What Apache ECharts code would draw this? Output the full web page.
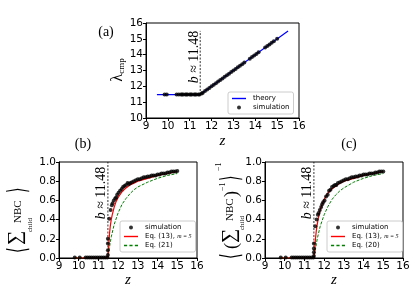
<!DOCTYPE html>
<html>
<head>
<meta charset="utf-8">
<script src="https://cdn.jsdelivr.net/npm/echarts@6/dist/echarts.min.js"></script>
<style>
html,body{margin:0;padding:0;background:#fff;}
#c{width:416px;height:291px;}
</style>
</head>
<body>
<div id="c"></div>
<script>
// ---------- data ----------
const xTicks = [9, 10, 11, 12, 13, 14, 15, 16];
const aYTicks = [10, 11, 12, 13, 14, 15, 16];
const bcYTicks = [0.0, 0.2, 0.4, 0.6, 0.8, 1.0];
const bThreshold = 11.48;

// (a) theory and simulation
const aTheoryZ = [9.5, 11.48, 15.5];
const aTheoryL = [11.48, 11.48, 15.5];
const aSimZ = [9.85, 9.95, 10.4, 10.5, 10.6, 10.65, 10.7, 10.8, 10.85, 10.9, 11.0, 11.05, 11.1, 11.2, 11.25, 11.3, 11.4, 11.45,
  11.55, 11.6, 11.7, 11.8, 11.9, 12.0, 12.1, 12.2, 12.3, 12.4, 12.5, 12.6, 12.7, 12.8, 12.9, 13.0, 13.1, 13.2, 13.3, 13.4, 13.5,
  13.75, 13.85, 13.95, 14.05, 14.15, 14.45, 14.55, 14.65, 14.75, 14.85, 15.0];
const aSimL = [11.48, 11.48, 11.48, 11.48, 11.48, 11.48, 11.48, 11.48, 11.48, 11.48, 11.48, 11.48, 11.48, 11.48, 11.48, 11.48, 11.48, 11.48,
  11.55, 11.6, 11.7, 11.8, 11.9, 12.0, 12.1, 12.2, 12.3, 12.4, 12.5, 12.6, 12.7, 12.8, 12.9, 13.0, 13.1, 13.2, 13.3, 13.4, 13.5,
  13.75, 13.85, 13.95, 14.05, 14.15, 14.45, 14.55, 14.65, 14.75, 14.85, 15.0];

// (b)/(c) simulation
const simZ = [9.8, 10.05, 10.35, 10.45, 10.55, 10.65, 10.75, 10.85, 10.95, 11.05, 11.15, 11.25, 11.35, 11.45,
  11.48, 11.48, 11.48, 11.48,
  11.55, 11.62, 11.68, 11.72, 11.78, 11.85, 11.9, 11.95, 12.02, 12.1, 12.18, 12.25, 12.32, 12.4, 12.48, 12.55, 12.62, 12.7,
  12.8, 12.9, 13.0, 13.1, 13.2, 13.3, 13.4, 13.5, 13.6, 13.7, 13.8, 13.9, 14.0, 14.1, 14.2, 14.3, 14.4, 14.5, 14.6, 14.7, 14.8, 14.9, 15.0];
const bSimV = [0.005, 0.005, 0.005, 0.005, 0.005, 0.005, 0.005, 0.005, 0.005, 0.005, 0.005, 0.005, 0.005, 0.005,
  0.03, 0.08, 0.15, 0.2,
  0.41, 0.5, 0.55, 0.57, 0.6, 0.62, 0.63, 0.66, 0.68, 0.7, 0.72, 0.74, 0.75, 0.76, 0.78, 0.77, 0.78, 0.79,
  0.8, 0.81, 0.82, 0.82, 0.83, 0.84, 0.84, 0.85, 0.85, 0.86, 0.86, 0.86, 0.87, 0.87, 0.88, 0.88, 0.88, 0.89, 0.89, 0.9, 0.9, 0.9, 0.905];
const cSimV = [0.005, 0.005, 0.005, 0.005, 0.005, 0.005, 0.005, 0.005, 0.005, 0.005, 0.005, 0.005, 0.005, 0.005,
  0.02, 0.06, 0.1, 0.15,
  0.33, 0.4, 0.45, 0.47, 0.5, 0.53, 0.56, 0.58, 0.6, 0.64, 0.66, 0.7, 0.71, 0.74, 0.75, 0.76, 0.76, 0.78,
  0.79, 0.8, 0.81, 0.82, 0.82, 0.83, 0.84, 0.84, 0.85, 0.85, 0.86, 0.86, 0.87, 0.87, 0.87, 0.88, 0.88, 0.88, 0.89, 0.89, 0.9, 0.9, 0.9];

// Eq. (13) curves
const eq13Z = [9.8, 11.48, 11.52, 11.56, 11.6, 11.65, 11.7, 11.8, 11.9, 12.0, 12.2, 12.4, 12.6, 12.8, 13.0, 13.5, 14.0, 14.5, 15.0];
const bEq13V = [0, 0, 0.12, 0.25, 0.33, 0.4, 0.45, 0.53, 0.59, 0.63, 0.69, 0.73, 0.76, 0.78, 0.8, 0.83, 0.86, 0.88, 0.9];
const cEq13V = [0, 0, 0.08, 0.2, 0.28, 0.35, 0.41, 0.5, 0.56, 0.61, 0.68, 0.72, 0.75, 0.78, 0.8, 0.83, 0.86, 0.88, 0.9];
// Eq. (21) / Eq. (20) curves
const eqAltZ = [9.8, 11.48, 11.55, 11.65, 11.8, 12.0, 12.2, 12.4, 12.6, 12.8, 13.0, 13.5, 14.0, 14.5, 15.0];
const bEq21V = [0, 0, 0.1, 0.22, 0.35, 0.47, 0.56, 0.62, 0.67, 0.71, 0.74, 0.79, 0.83, 0.86, 0.88];
const cEq20V = [0, 0, 0.08, 0.2, 0.33, 0.45, 0.54, 0.61, 0.66, 0.7, 0.73, 0.79, 0.83, 0.86, 0.88];

const aVLine = [[bThreshold, 11.48], [bThreshold, 15.5]];
const bcVLine = [[bThreshold, 0], [bThreshold, 1]];

// ---------- helpers ----------
const zip = (xs, ys) => xs.map((x, i) => [x, ys[i]]);
const SANS = 'DejaVu Sans';
const SERIF = 'Liberation Serif';
const SOLID_ICON = 'path://M0,0H20V2H0Z';
const DASH_ICON = 'path://M0,0H4.5V2H0Z M7.75,0H12.25V2H7.75Z M15.5,0H20V2H15.5Z';

function xAxis(grid, gap) {
  return {
    type: 'value', gridIndex: grid, min: xTicks[0], max: xTicks[xTicks.length - 1], interval: 1,
    axisLine: {show: true, lineStyle: {color: '#000', width: 1}},
    axisTick: {show: true, length: 3, lineStyle: {color: '#000'}},
    splitLine: {show: false},
    axisLabel: {fontSize: 10.5, fontFamily: SANS, color: '#000', margin: 3},
    name: 'z', nameLocation: 'middle', nameGap: gap,
    nameTextStyle: {fontFamily: SERIF, fontStyle: 'italic', fontSize: 15, color: '#000'}
  };
}
function yAxis(grid, ticks, dec) {
  return {
    type: 'value', gridIndex: grid, min: ticks[0], max: ticks[ticks.length - 1],
    interval: +(ticks[1] - ticks[0]).toFixed(3),
    axisLine: {show: true, lineStyle: {color: '#000', width: 1}},
    axisTick: {show: true, length: 3, lineStyle: {color: '#000'}},
    splitLine: {show: false},
    axisLabel: {fontSize: 10.5, fontFamily: SANS, color: '#000', margin: 3,
      formatter: v => v.toFixed(dec)}
  };
}
const gridStyle = {show: true, borderColor: '#000', borderWidth: 1, backgroundColor: 'transparent'};
const simStyle = {type: 'scatter', symbolSize: 4, itemStyle: {color: '#000'}, z: 5};
const vline = {type: 'line', symbol: 'none', silent: true, lineStyle: {color: '#000', width: 0.8, type: [2, 1.5]}, z: 1};
const redStyle = {type: 'line', symbol: 'none', lineStyle: {color: '#ff0000', width: 1.2}, itemStyle: {color: '#ff0000'}, z: 3};
const greenStyle = {type: 'line', symbol: 'none', lineStyle: {color: '#008000', width: 1, type: [3, 1.5]}, itemStyle: {color: '#008000'}, z: 2};

function legend(left, top, items) {
  return {
    left: left, top: top, orient: 'vertical', data: items,
    itemWidth: 14, itemHeight: 4, itemGap: 2, padding: [3, 4, 3, 4],
    borderColor: '#cccccc', borderWidth: 1, borderRadius: 2, backgroundColor: 'rgba(255,255,255,0.8)',
    textStyle: {fontSize: 7, fontFamily: SANS, color: '#000', padding: [0, 0, 0, 2],
      rich: {m: {fontSize: 6, fontFamily: SERIF, fontStyle: 'italic', color: '#000'}}},
    formatter: n => n === 'Eq. (13), m = 5' ? 'Eq. (13), {m|m = 5}' : n,
    selectedMode: false
  };
}
const simItem = {name: 'simulation', icon: 'circle'};

function txt(x, y, text, size) {
  return {
    type: 'text', x: x, y: y, silent: true,
    style: {text: text, fontSize: size, fontFamily: SERIF, fill: '#000',
      align: 'center', verticalAlign: 'middle', textAlign: 'center', textVerticalAlign: 'middle'}
  };
}
function threshLabel(x, y) {
  return {
    type: 'text', x: x, y: y, rotation: Math.PI / 2, silent: true,
    style: {text: '{i|b} ≈ 11.48', fontSize: 14, fontFamily: SERIF, fill: '#000',
      align: 'center', verticalAlign: 'middle', textAlign: 'center', textVerticalAlign: 'middle',
      rich: {i: {fontSize: 14, fontFamily: SERIF, fontStyle: 'italic', fill: '#000'}}}
  };
}
function part(x, y, text, size, font, sx) {
  return {type: 'text', x: x, y: y, silent: true, scaleX: sx || 1,
    style: {text: text, fontSize: size, fontFamily: font || SERIF, fill: '#000',
      align: 'left', verticalAlign: 'middle', textAlign: 'left', textVerticalAlign: 'middle'}};
}

const option = {
  animation: false,
  backgroundColor: '#fff',
  grid: [
    Object.assign({left: 146, top: 23, width: 153, height: 95}, gridStyle),
    Object.assign({left: 59, top: 162, width: 138, height: 96}, gridStyle),
    Object.assign({left: 265, top: 162, width: 138, height: 96}, gridStyle)
  ],
  xAxis: [xAxis(0, 16), xAxis(1, 13), xAxis(2, 13)],
  yAxis: [yAxis(0, aYTicks, 0), yAxis(1, bcYTicks, 1), yAxis(2, bcYTicks, 1)],
  legend: [
    legend(228, 92, [{name: 'theory', icon: SOLID_ICON}, simItem]),
    legend(120, 221, [simItem, {name: 'Eq. (13), m = 5', icon: SOLID_ICON}, {name: 'Eq. (21)', icon: DASH_ICON}]),
    legend(327, 221, [simItem, {name: 'Eq. (13), m = 5', icon: SOLID_ICON}, {name: 'Eq. (20)', icon: DASH_ICON}])
  ],
  series: [
    Object.assign({}, vline, {xAxisIndex: 0, yAxisIndex: 0, data: aVLine}),
    {type: 'line', name: 'theory', symbol: 'none', xAxisIndex: 0, yAxisIndex: 0, data: zip(aTheoryZ, aTheoryL),
      lineStyle: {color: '#0000ff', width: 1.2}, itemStyle: {color: '#0000ff'}, z: 2},
    Object.assign({}, simStyle, {name: 'simulation', xAxisIndex: 0, yAxisIndex: 0, data: zip(aSimZ, aSimL)}),

    Object.assign({}, vline, {xAxisIndex: 1, yAxisIndex: 1, data: bcVLine}),
    Object.assign({}, greenStyle, {name: 'Eq. (21)', xAxisIndex: 1, yAxisIndex: 1, data: zip(eqAltZ, bEq21V)}),
    Object.assign({}, redStyle, {name: 'Eq. (13), m = 5', xAxisIndex: 1, yAxisIndex: 1, data: zip(eq13Z, bEq13V)}),
    Object.assign({}, simStyle, {name: 'simulation', xAxisIndex: 1, yAxisIndex: 1, data: zip(simZ, bSimV)}),

    Object.assign({}, vline, {xAxisIndex: 2, yAxisIndex: 2, data: bcVLine}),
    Object.assign({}, greenStyle, {name: 'Eq. (20)', xAxisIndex: 2, yAxisIndex: 2, data: zip(eqAltZ, cEq20V)}),
    Object.assign({}, redStyle, {name: 'Eq. (13), m = 5', xAxisIndex: 2, yAxisIndex: 2, data: zip(eq13Z, cEq13V)}),
    Object.assign({}, simStyle, {name: 'simulation', xAxisIndex: 2, yAxisIndex: 2, data: zip(simZ, cSimV)})
  ],
  graphic: [
    txt(106, 32, '(a)', 14),
    txt(83, 144, '(b)', 14),
    txt(349, 144, '(c)', 14),
    threshLabel(194, 57),
    threshLabel(101, 193),
    threshLabel(307, 193),
    // lambda_cmp
    {type: 'text', x: 118, y: 70, rotation: Math.PI / 2, silent: true,
      style: {text: '{l|λ}{s|cmp}', fill: '#000', align: 'center', verticalAlign: 'middle',
        textAlign: 'center', textVerticalAlign: 'middle',
        rich: {l: {fontSize: 16, fontFamily: SERIF, fill: '#000'},
               s: {fontSize: 9, fontFamily: SERIF, fill: '#000', verticalAlign: 'bottom'}}}},
    // <sum_child^NBC>
    {type: 'group', x: 19, y: 253, rotation: Math.PI / 2, silent: true, children: [
      part(0, 0, '⟨', 26, SANS, 0.55),
      part(8, -3, '∑', 20),
      part(21, 11, 'child', 7),
      part(30, -1, 'NBC', 11),
      part(60, 0, '⟩', 26, SANS, 0.55)
    ]},
    // <(sum_child^NBC)^-1>^-1
    {type: 'group', x: 232, y: 259, rotation: Math.PI / 2, silent: true, children: [
      part(0, 0, '⟨', 26, SANS, 0.55),
      part(10, 0, '(', 18),
      part(16, -2, '∑', 20),
      part(29, 10, 'child', 7),
      part(38, -2, 'NBC', 11),
      part(62, 0, ')', 18),
      part(68, -9, '−1', 8),
      part(78, 0, '⟩', 26, SANS, 0.55),
      part(88, -13, '−1', 8)
    ]}
  ]
};

const chart = echarts.init(document.getElementById('c'), null, {renderer: 'canvas'});
chart.setOption(option);
</script>
</body>
</html>
